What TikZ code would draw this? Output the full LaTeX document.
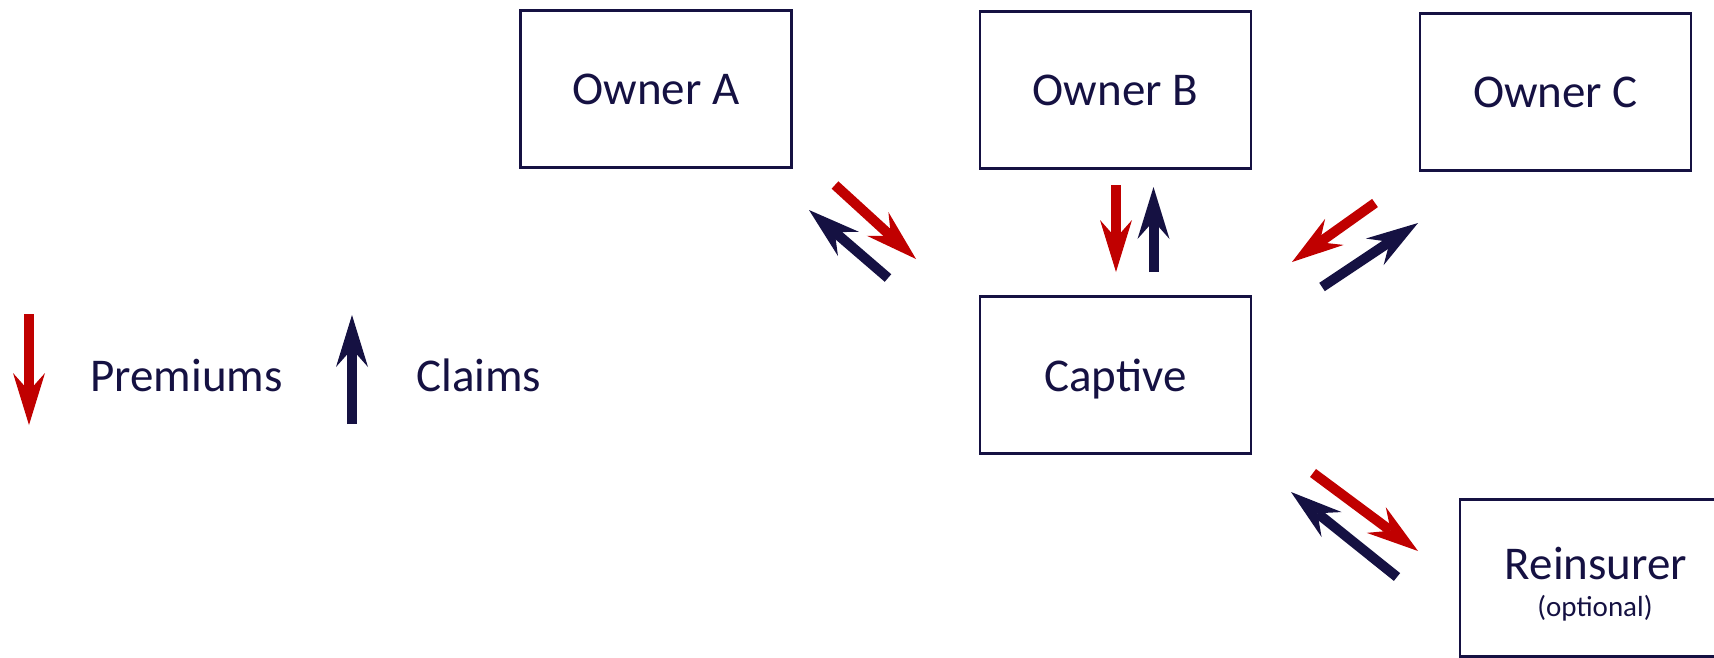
\documentclass[tikz,border=0pt]{standalone}
\usepackage{fontspec}
\setmainfont{Carlito}
\usetikzlibrary{arrows.meta}
\definecolor{inknavy}{RGB}{21,17,66}
\definecolor{premred}{RGB}{192,0,0}
\begin{document}
\begin{tikzpicture}[x=1pt,y=-1pt,
  party/.style={draw=inknavy, line width=2.5pt, minimum width=271pt,
    minimum height=157pt, inner sep=0pt, text=inknavy, text depth=0pt,
    font=\fontsize{47}{56}\selectfont},
  caption/.style={inner sep=0pt, text=inknavy, anchor=base},
  flow/.style={line width=10pt,
    -{Stealth[length=52pt,width=32pt,inset=18pt,line width=0pt]}},
  premium/.style={flow, draw=premred},
  claim/.style={flow, draw=inknavy}]
\useasboundingbox (0,0) rectangle (1714,657);
\clip (0,0) rectangle (1714,657);

% parties
\node[party] (ownerA) at (656,89) {Owner A};
\node[party] (ownerB) at (1115.5,90) {Owner B};
\node[party] (ownerC) at (1555.5,92) {Owner C};
\node[party] (captive) at (1115.5,375) {Captive};
\node[party] (reins) at (1595.5,578) {};
\node[caption, font=\fontsize{47}{56}\selectfont] (reinsName) at (1596,579) {Reinsurer};
\node[caption, font=\fontsize{29}{34}\selectfont] (reinsNote) at (1595,616.5) {(optional)};

% premium / claim flows between owners, captive and reinsurer
\coordinate (aPs) at (835,185);   \coordinate (aPe) at (916,259);
\coordinate (aCs) at (888,278);   \coordinate (aCe) at (809,210);
\coordinate (bPs) at (1116,185);  \coordinate (bPe) at (1116,272);
\coordinate (bCs) at (1153.5,272);\coordinate (bCe) at (1153.5,187);
\coordinate (cPs) at (1375,203);  \coordinate (cPe) at (1292,262);
\coordinate (cCs) at (1322,287);  \coordinate (cCe) at (1418,223);
\coordinate (rPs) at (1313,473);  \coordinate (rPe) at (1418,551);
\coordinate (rCs) at (1397,577);  \coordinate (rCe) at (1291,492);
\draw[premium] (aPs) -- (aPe);
\draw[claim]   (aCs) -- (aCe);
\draw[premium] (bPs) -- (bPe);
\draw[claim]   (bCs) -- (bCe);
\draw[premium] (cPs) -- (cPe);
\draw[claim]   (cCs) -- (cCe);
\draw[premium] (rPs) -- (rPe);
\draw[claim]   (rCs) -- (rCe);

% legend
\coordinate (lPs) at (29,314);  \coordinate (lPe) at (29,425);
\coordinate (lCs) at (352,424); \coordinate (lCe) at (352,315);
\draw[premium] (lPs) -- (lPe);
\draw[claim]   (lCs) -- (lCe);
\node[caption, anchor=base west, font=\fontsize{47}{56}\selectfont] (premText) at (90,391) {Premiums};
\node[caption, anchor=base west, font=\fontsize{47}{56}\selectfont] (claimText) at (416,391) {Claims};
\end{tikzpicture}
\end{document}
